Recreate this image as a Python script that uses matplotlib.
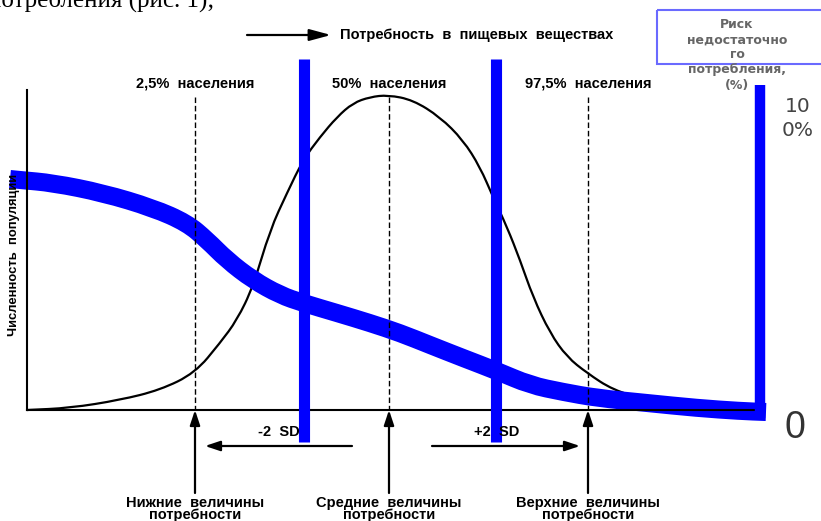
import matplotlib.pyplot as plt
from matplotlib.path import Path
from matplotlib.patches import PathPatch

# --- Data (pixel coordinates, y grows downward) ---
# distribution of requirement in the population (thin black bell)
bell_x = [27, 70, 120, 160, 195, 220, 237, 253, 270, 287, 303, 320, 337, 353, 370, 388,
          413, 440, 463, 480, 493, 507, 520, 533, 550, 567, 587, 613, 647, 680, 713, 757]
bell_y = [410, 408, 400, 390, 373, 343, 320, 287, 230, 193, 160, 137, 117, 103, 97, 95,
          100, 117, 140, 167, 197, 227, 260, 297, 333, 357, 373, 390, 400, 407, 410, 410]

# risk of inadequate intake (thick blue curve)
risk_x = [10, 20, 53, 103, 153, 187, 207, 227, 253, 280, 303, 337, 370, 400,
          430, 463, 497, 530, 563, 597, 647, 697, 740, 766]
risk_y = [179, 180, 183, 193, 208, 223, 240, 260, 280, 295, 303, 313, 323, 333,
          345, 358, 371, 385, 392, 398, 403, 408, 411, 412]

# reference points: -2 SD, mean, +2 SD
ref_x = [195, 389, 588]
top_labels = ["2,5%  населения", "50%  населения", "97,5%  населения"]
bottom_labels = ["Нижние  величины\nпотребности",
                 "Средние  величины\nпотребности",
                 "Верхние  величины\nпотребности"]

# blue vertical markers
bar_x = [304, 496]
risk_axis_x = 760

box_lines = ["Риск", "недостаточно", "го", "потребления,", "(%)"]

baseline_y = 410
axis_left = 27


def smooth_path(xs, ys):
    # quadratic bezier through midpoints, so the drawn line has no corners
    pts = list(zip(xs, ys))
    verts = [pts[0], ((pts[0][0] + pts[1][0]) / 2, (pts[0][1] + pts[1][1]) / 2)]
    codes = [Path.MOVETO, Path.LINETO]
    for i in range(1, len(pts) - 1):
        mid = ((pts[i][0] + pts[i + 1][0]) / 2, (pts[i][1] + pts[i + 1][1]) / 2)
        verts += [pts[i], mid]
        codes += [Path.CURVE3, Path.CURVE3]
    verts.append(pts[-1])
    codes.append(Path.LINETO)
    return Path(verts, codes)


# --- Plotting ---
fig = plt.figure(figsize=(8.21, 5.21), dpi=100)
ax = fig.add_axes([0, 0, 1, 1])
ax.set_xlim(0, 821)
ax.set_ylim(521, 0)
ax.axis("off")

bold = dict(family="Liberation Sans", fontweight="bold", color="black")

# leftover text line from the page above the figure
ax.text(-12, 7, "потребления (рис. 1);", family="Liberation Serif", fontsize=18,
        ha="left", va="baseline", color="black")

# axes of the diagram
ax.plot([axis_left, axis_left], [90, baseline_y], color="black", lw=1.5)
ax.plot([axis_left, 758], [baseline_y, baseline_y], color="black", lw=1.5)

ax.text(14, 255, "Численность  популяции", rotation=90, ha="center", va="center",
        fontsize=9.4, **bold)

# dashed reference lines
for x in ref_x:
    ax.plot([x, x], [97, baseline_y], color="black", lw=1, linestyle=(0, (4, 2)))

# bell curve
ax.add_patch(PathPatch(smooth_path(bell_x, bell_y), fill=False, edgecolor="black", lw=1.6))

# labels above dashed lines
for x, lab in zip(ref_x, top_labels):
    ax.text(x, 84, lab, ha="center", va="center", fontsize=10.5, **bold)

# arrows from the bottom labels
arrow_kw = dict(arrowstyle="-|>,head_length=0.9,head_width=0.3", color="black",
                lw=1.6, shrinkA=0, shrinkB=0)
for x, lab in zip(ref_x, bottom_labels):
    ax.annotate("", xy=(x, baseline_y), xytext=(x, 493), arrowprops=arrow_kw)
    ax.text(x, 509, lab, ha="center", va="center", fontsize=10.5, linespacing=0.9, **bold)

# SD arrows
ax.annotate("", xy=(205, 446), xytext=(352, 446), arrowprops=arrow_kw)
ax.annotate("", xy=(580, 446), xytext=(432, 446), arrowprops=arrow_kw)
ax.text(279, 432, "-2  SD", ha="center", va="center", fontsize=10.5, **bold)
ax.text(497, 432, "+2  SD", ha="center", va="center", fontsize=10.5, **bold)

# top arrow with title
top_kw = dict(arrow_kw, arrowstyle="-|>,head_length=1.3,head_width=0.35")
ax.annotate("", xy=(331, 35), xytext=(247, 35), arrowprops=top_kw)
ax.text(340, 35, "Потребность  в  пищевых  веществах", ha="left", va="center",
        fontsize=10.5, **bold)

# blue markers
for x in bar_x:
    ax.plot([x, x], [59, 442], color="#0000ff", lw=8, solid_capstyle="butt")
ax.plot([risk_axis_x, risk_axis_x], [85, 418], color="#0000ff", lw=7.5,
        solid_capstyle="butt")
ax.add_patch(PathPatch(smooth_path(risk_x, risk_y), fill=False, edgecolor="#0000ff",
                       lw=13, capstyle="butt", joinstyle="round"))

# box at top right
box = plt.Rectangle((657, 10), 200, 54, fill=False, edgecolor="#6a6aff", lw=1.5)
ax.add_patch(box)
for i, line in enumerate(box_lines):
    ax.text(737, 25 + 15 * i, line, ha="center", va="center", fontsize=9,
            family="DejaVu Sans", fontweight="bold", color="#666666")

# risk scale numbers
ax.text(798, 107, "10", ha="center", va="center", fontsize=14.5,
        family="DejaVu Sans", color="#444444")
ax.text(798, 131, "0%", ha="center", va="center", fontsize=14.5,
        family="DejaVu Sans", color="#444444")
ax.text(795, 428, "0", ha="center", va="center", fontsize=27,
        family="Liberation Sans", color="#333333")

fig.savefig("out.png", dpi=100)
